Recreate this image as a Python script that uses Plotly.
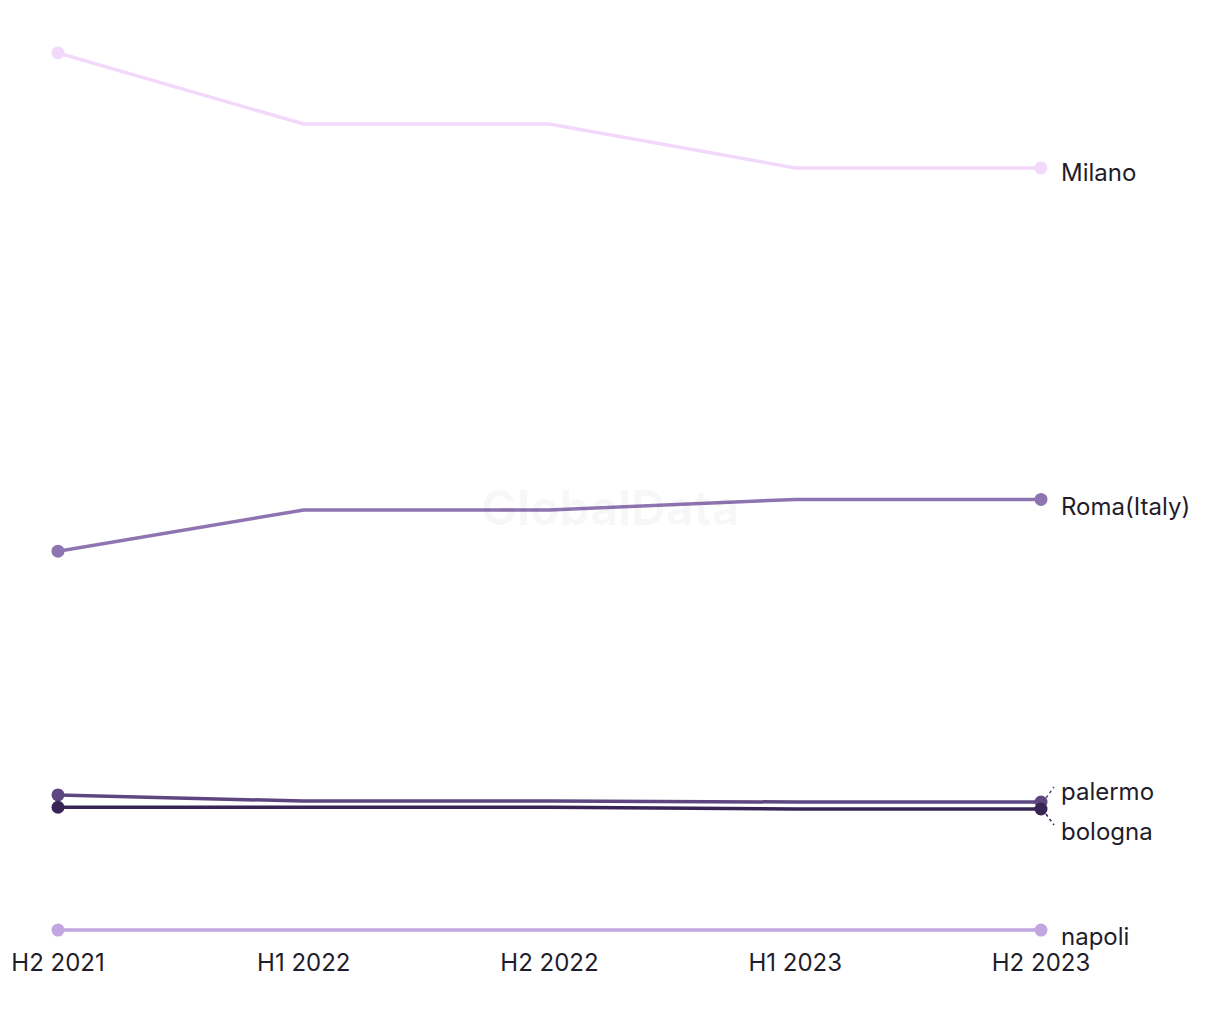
import plotly.graph_objects as go

periods = ["H2 2021", "H1 2022", "H2 2022", "H1 2023", "H2 2023"]

milano = [100.0, 91.9, 91.9, 86.9, 86.9]
roma = [43.2, 47.9, 47.9, 49.1, 49.1]
palermo = [15.4, 14.7, 14.7, 14.6, 14.6]
bologna = [14.0, 14.0, 14.0, 13.8, 13.8]
napoli = [0.0, 0.0, 0.0, 0.0, 0.0]

series = [
    ("napoli", napoli, "#c1a6e2"),
    ("Milano", milano, "#f2d8fb"),
    ("Roma(Italy)", roma, "#8f74b2"),
    ("palermo", palermo, "#5e4781"),
    ("bologna", bologna, "#382555"),
]
label_shift = {"napoli": -6, "Milano": -5, "Roma(Italy)": -7, "palermo": 10, "bologna": -22}

FONT = "Inter, Roboto, 'Noto Sans', sans-serif"
TEXT = "#1f1d2b"

fig = go.Figure()
for name, vals, color in series:
    fig.add_trace(go.Scatter(
        x=periods, y=vals, mode="lines", name=name,
        line=dict(color=color, width=3.5), cliponaxis=False,
    ))
    fig.add_trace(go.Scatter(
        x=[periods[0], periods[-1]], y=[vals[0], vals[-1]], mode="markers", name=name,
        marker=dict(color=color, size=13, opacity=1, line=dict(width=0)),
        cliponaxis=False, showlegend=False,
    ))

annotations = []
for name, vals, color in series:
    annotations.append(dict(
        x=periods[-1], y=vals[-1], xref="x", yref="y",
        text=name, showarrow=False, xanchor="left", yanchor="middle",
        xshift=18, yshift=label_shift[name],
        font=dict(family=FONT, size=24, color=TEXT),
    ))

annotations.append(dict(
    x=(610 - 58) / 983, y=0.5, xref="paper", yref="paper", text="<b>GlobalData</b>",
    showarrow=False, font=dict(family=FONT, size=48, color="rgba(0,0,0,0.035)"),
    yshift=-28,
))

shapes = []
for name, vals, color in series:
    if name == "palermo":
        shapes.append(dict(type="line", xref="paper", yref="y", xsizemode="pixel", ysizemode="pixel",
                           xanchor=1, yanchor=vals[-1], x0=5, x1=13, y0=4, y1=15,
                           line=dict(color=color, width=1.5, dash="3px,3px")))
    if name == "bologna":
        shapes.append(dict(type="line", xref="paper", yref="y", xsizemode="pixel", ysizemode="pixel",
                           xanchor=1, yanchor=vals[-1], x0=5, x1=13, y0=-5, y1=-16,
                           line=dict(color=color, width=1.5, dash="3px,3px")))

fig.update_layout(
    width=1220, height=1020,
    margin=dict(l=58, r=179, t=13, b=74),
    paper_bgcolor="white", plot_bgcolor="white",
    showlegend=False,
    annotations=annotations, shapes=shapes,
    font=dict(family=FONT, color=TEXT),
)
fig.update_xaxes(
    type="category", range=[0, 4], showgrid=False, zeroline=False, showline=False,
    ticks="", tickfont=dict(family=FONT, size=24, color=TEXT),
)
fig.update_yaxes(range=[-1.82, 104.56], visible=False, showgrid=False, zeroline=False)

fig.write_html("out.html")
